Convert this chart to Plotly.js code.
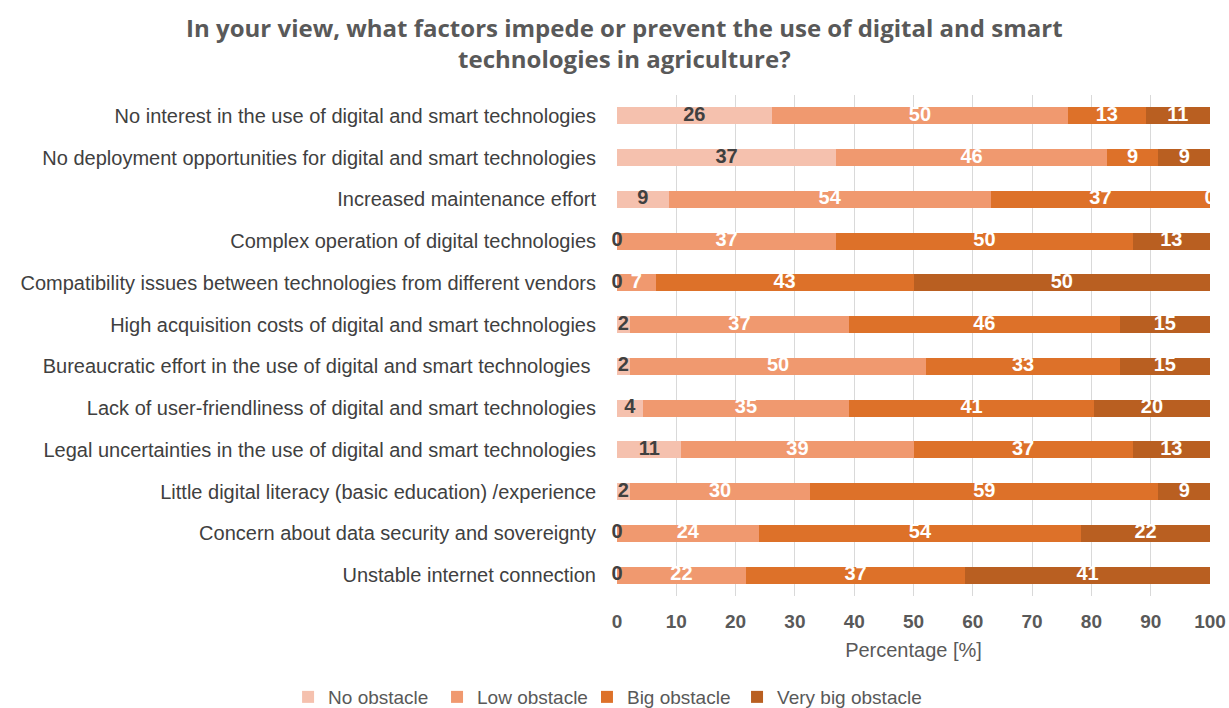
<!DOCTYPE html>
<html>
<head>
<meta charset="utf-8">
<script src="https://cdn.plot.ly/plotly-3.0.1.min.js"></script>
<style>html,body{margin:0;padding:0;background:#fff;}#chart{width:1229px;height:708px;}</style>
</head>
<body>
<div id="chart"></div>
<script>
const categories = [
  "No interest in the use of digital and smart technologies",
  "No deployment opportunities for digital and smart technologies",
  "Increased maintenance effort",
  "Complex operation of digital technologies",
  "Compatibility issues between technologies from different vendors",
  "High acquisition costs of digital and smart technologies",
  "Bureaucratic effort in the use of digital and smart technologies ",
  "Lack of user-friendliness of digital and smart technologies",
  "Legal uncertainties in the use of digital and smart technologies",
  "Little digital literacy (basic education) /experience",
  "Concern about data security and sovereignty",
  "Unstable internet connection"
];
const seriesNames = ["No obstacle", "Low obstacle", "Big obstacle", "Very big obstacle"];
const noObstacle     = [26.09, 36.96,  8.70,  0,     0,     2.17,  2.17,  4.35, 10.87,  2.17,  0,     0    ];
const lowObstacle    = [50.00, 45.65, 54.35, 36.96,  6.52, 36.96, 50.00, 34.78, 39.13, 30.43, 23.91, 21.74];
const bigObstacle    = [13.04,  8.70, 36.96, 50.00, 43.48, 45.65, 32.61, 41.30, 36.96, 58.70, 54.35, 36.96];
const veryBigObstacle= [10.87,  8.70,  0,    13.04, 50.00, 15.22, 15.22, 19.57, 13.04,  8.70, 21.74, 41.30];
const xTicks = [0,10,20,30,40,50,60,70,80,90,100];

const series = [noObstacle, lowObstacle, bigObstacle, veryBigObstacle];
const colors = ["#F5C1AE", "#F0996F", "#DD7129", "#B95F21"];
const labelColors = ["#404040", "#ffffff", "#ffffff", "#ffffff"];
const FONT = "Liberation Sans, Arial, sans-serif";
const legendIds = ["legend", "legend2", "legend3", "legend4"];
const legendX = [0.2344, 0.3556, 0.4776, 0.5997];

const traces = [];
series.forEach((vals, i) => {
  traces.push({
    type: "bar", orientation: "h", name: seriesNames[i],
    x: vals, y: categories,
    marker: {color: colors[i]},
    legend: legendIds[i],
    textposition: "none", hoverinfo: "x+name"
  });
});
// labels, centred in each segment
const base = categories.map(() => 0);
series.forEach((vals, i) => {
  const mids = vals.map((v, k) => Math.min(100, base[k] + v / 2));
  vals.forEach((v, k) => { base[k] += v; });
  traces.push({
    type: "scatter", mode: "text", x: mids, y: categories,
    text: vals.map(v => String(Math.round(v))),
    textposition: "middle center",
    textfont: {family: FONT, size: 20, color: labelColors[i], weight: "bold"},
    cliponaxis: i !== 0,
    showlegend: false, hoverinfo: "skip"
  });
});

const layout = {
  width: 1229, height: 708,
  paper_bgcolor: "#ffffff", plot_bgcolor: "#ffffff",
  margin: {l: 617, r: 19, t: 95, b: 112},
  barmode: "stack", bargap: 0.59,
  font: {family: FONT, color: "#595959"},
  title: {
    text: "In your view, what factors impede or prevent the use of digital and smart<br>technologies in agriculture?",
    font: {family: "Open Sans, Liberation Sans, sans-serif", size: 24, color: "#595959", weight: "bold"},
    x: 0.508, xanchor: "center", xref: "container",
    y: 0.948, yanchor: "top", yref: "container", automargin: false
  },
  xaxis: {
    range: [0, 100], autorange: false, tickvals: xTicks, ticktext: xTicks.map(String),
    showgrid: true, gridcolor: "#d9d9d9", gridwidth: 1,
    zeroline: false, showline: false, automargin: false,
    ticks: "outside", ticklen: 8, tickcolor: "rgba(0,0,0,0)",
    tickfont: {family: FONT, size: 19, color: "#595959", weight: "bold"},
    title: {text: "Percentage [%]", font: {family: FONT, size: 20, color: "#595959"}, standoff: 12},
    fixedrange: true
  },
  yaxis: {
    type: "category", categoryorder: "array", categoryarray: categories,
    autorange: false, range: [categories.length - 0.5, -0.5],
    showgrid: false, zeroline: false, showline: false, automargin: false,
    ticks: "outside", ticklen: 16, tickcolor: "rgba(0,0,0,0)",
    tickfont: {family: FONT, size: 20, color: "#404040"},
    fixedrange: true
  },
  showlegend: true
};
legendIds.forEach((id, i) => {
  layout[id] = {
    orientation: "h", xref: "container", yref: "container",
    x: legendX[i], xanchor: "left", y: 0.0155, yanchor: "middle",
    font: {family: FONT, size: 19, color: "#595959"},
    bgcolor: "rgba(0,0,0,0)"
  };
});

Plotly.newPlot("chart", traces, layout, {displayModeBar: false});
</script>
</body>
</html>
